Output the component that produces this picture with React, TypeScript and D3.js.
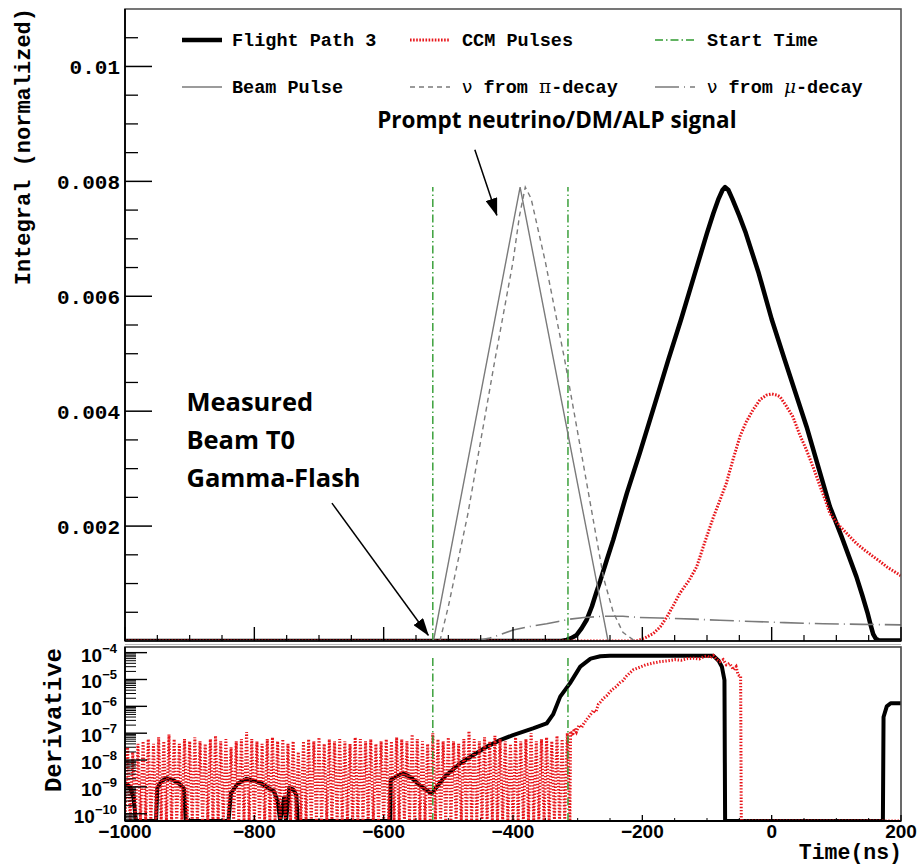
import React from 'react';
import * as d3 from 'd3';

// ---- axis labels / ticks ----
const timeMajorTicks = [-1000, -800, -600, -400, -200, 0, 200];
const timeTickLabels = ['\u22121000', '\u2212800', '\u2212600', '\u2212400', '\u2212200', '0', '200'];
const integralTicks = [0.002, 0.004, 0.006, 0.008, 0.01];
const integralTickLabels = ['0.002', '0.004', '0.006', '0.008', '0.01'];
const derivTicks = [1e-4, 1e-5, 1e-6, 1e-7, 1e-8, 1e-9, 1e-10];
const derivExponents = ['\u22124', '\u22125', '\u22126', '\u22127', '\u22128', '\u22129', '\u221210'];

// start-time window (ns)
const startTimes = [-524, -315];

// ---- top panel series: [time (ns), integral] ----
const flightPath3: [number, number][] = [
  [-1000, 0], [-325, 0], [-317, 0.00002], [-310, 0.00005], [-302, 0.0001], [-294, 0.00022],
  [-286, 0.00037], [-278, 0.0006], [-271, 0.00085], [-265, 0.00105], [-255, 0.00141],
  [-245, 0.00176], [-224, 0.00257], [-204, 0.00327], [-180, 0.00415], [-160, 0.00489],
  [-140, 0.0056], [-120, 0.00635], [-100, 0.0071], [-90, 0.00745], [-82, 0.0077],
  [-76, 0.00785], [-72, 0.0079], [-67, 0.00785], [-61, 0.0077], [-50, 0.0074], [-40, 0.0071],
  [-20, 0.0064], [0, 0.0056], [20, 0.0049], [54, 0.00373], [90, 0.00234], [108, 0.00182],
  [131, 0.00112], [140, 0.0008], [148, 0.0005], [153, 0.00028], [157, 0.00012],
  [161, 0.00004], [166, 0.00001], [200, 0.00001],
];

const ccmPulses: [number, number][] = [
  [-1000, 0], [-210, 0], [-204, 0.00002], [-195, 0.00006], [-183, 0.00013], [-172, 0.00025],
  [-162, 0.00042], [-152, 0.00062], [-142, 0.00083], [-128, 0.00105], [-116, 0.00129],
  [-104, 0.0017], [-90, 0.00216], [-80, 0.00245], [-70, 0.00275], [-60, 0.00315],
  [-49, 0.00356], [-40, 0.0038], [-29, 0.00402], [-18, 0.0042], [-8, 0.00428], [0, 0.0043],
  [8, 0.00428], [13, 0.00425], [22, 0.0041], [33, 0.0039], [43, 0.0036], [54, 0.00332],
  [65, 0.003], [75, 0.00269], [83, 0.00245], [90, 0.00222], [98, 0.0021], [106, 0.00199],
  [118, 0.00185], [131, 0.0017], [144, 0.00158], [157, 0.00147], [168, 0.00138],
  [178, 0.00129], [188, 0.00122], [198, 0.00115], [200, 0.00113],
];

const beamPulse: [number, number][] = [
  [-1000, 0], [-523, 0], [-389, 0.0079], [-253, 0], [200, 0],
];

const nuPiDecay: [number, number][] = [
  [-1000, 0], [-513, 0], [-500, 0.0006], [-470, 0.0022], [-428, 0.00489], [-400, 0.0066],
  [-390, 0.0074], [-381, 0.0079], [-372, 0.0077], [-350, 0.0066], [-320, 0.00489],
  [-290, 0.003], [-260, 0.0011], [-245, 0.0005], [-230, 0.00015], [-214, 0.00002],
  [-200, 0], [200, 0],
];

const nuMuDecay: [number, number][] = [
  [-470, 0], [-455, 0.00001], [-436, 0.00005], [-420, 0.00011], [-400, 0.00019],
  [-375, 0.00025], [-348, 0.0003], [-330, 0.00034], [-312, 0.00038], [-290, 0.00041],
  [-260, 0.00043], [-230, 0.00043], [-204, 0.00041], [-173, 0.0004], [-120, 0.00038],
  [-80, 0.00036], [-30, 0.00034], [20, 0.00032], [80, 0.0003], [140, 0.00029], [200, 0.00028],
];

// ---- bottom panel series ----
const fp3Derivative: [number, number][] = [
  [-1000, 1.4e-9], [-992, 1e-9], [-987, 4e-10], [-983, 0], [-952, 0], [-950, 9e-10],
  [-944, 1.6e-9], [-936, 2.1e-9], [-926, 1.8e-9], [-916, 1.3e-9], [-909, 9e-10], [-906, 0],
  [-840, 0], [-836, 6e-10], [-826, 1.3e-9], [-812, 2e-9], [-798, 1.6e-9], [-788, 1.3e-9],
  [-778, 9e-10], [-770, 7e-10], [-764, 3e-10], [-760, 0], [-754, 4e-10], [-751, 0],
  [-746, 9e-10], [-740, 8e-10], [-735, 5e-10], [-733, 0], [-590, 0], [-589, 1.8e-9],
  [-580, 2.5e-9], [-570, 3.2e-9], [-558, 2.3e-9], [-545, 1.2e-9], [-526, 5.6e-10],
  [-505, 2.5e-9], [-482, 7.4e-9], [-460, 1.6e-8], [-441, 3.1e-8], [-420, 5.5e-8],
  [-400, 8.5e-8], [-369, 1.5e-7], [-348, 2.3e-7], [-338, 5e-7], [-327, 2.3e-6],
  [-312, 7.2e-6], [-296, 3e-5], [-280, 6e-5], [-265, 7.3e-5], [-250, 7.6e-5], [-90, 7.6e-5],
  [-82, 5e-5], [-77, 3e-5], [-73, 9.5e-6], [-72, 0], [172, 0], [173, 4e-7], [178, 1e-6],
  [184, 1.3e-6], [200, 1.3e-6],
];

// CCM derivative before the start window: 4 ns bins, every other bin is negative
// (drops to the axis floor); these are the positive bin heights from -996 ns on.
const ccmNoiseStart = -1000;
const ccmNoiseBin = 4;
const ccmNoisePeaks = [
  3e-8, 2e-8, 4e-8, 5e-8, 6e-8, 4e-8, 7e-8, 5e-8, 9e-8, 6e-8,
  4e-8, 6e-8, 5e-8, 7e-8, 5e-8, 4e-8, 6e-8, 8e-8, 5e-8, 6e-8,
  3e-8, 5e-8, 6e-8, 1.1e-7, 6e-8, 5e-8, 4e-8, 6e-8, 7e-8, 5e-8,
  6e-8, 4e-8, 5e-8, 2e-8, 5e-8, 6e-8, 5e-8, 7e-8, 4e-8, 6e-8,
  5e-8, 6e-8, 5e-8, 4e-8, 7e-8, 6e-8, 5e-8, 6e-8, 4e-8, 5e-8,
  6e-8, 5e-8, 7e-8, 6e-8, 5e-8, 9e-8, 6e-8, 5e-8, 4e-8, 1e-7,
  6e-8, 5e-8, 7e-8, 5e-8, 4e-8, 6e-8, 1.2e-7, 6e-8, 5e-8, 7e-8,
  5e-8, 8e-8, 6e-8, 5e-8, 4e-8, 7e-8, 5e-8, 6e-8, 1e-7, 5e-8,
  6e-8, 7e-8, 5e-8, 8e-8, 6e-8, 1e-7,
];
const ccmDerivRise: [number, number][] = [
  [-311, 1.2e-7], [-308, 8e-8], [-305, 1.5e-7], [-302, 1.1e-7], [-298, 2e-7], [-294, 1.6e-7],
  [-290, 2.4e-7], [-285, 3.5e-7], [-280, 5e-7], [-276, 7e-7], [-272, 6e-7], [-268, 1.2e-6],
  [-264, 1.5e-6], [-260, 2e-6], [-255, 2.5e-6], [-250, 3.5e-6], [-245, 4.5e-6],
  [-240, 5.5e-6], [-235, 7.5e-6], [-230, 9e-6], [-225, 1.3e-5], [-220, 1.7e-5],
  [-214, 2.3e-5], [-205, 2.8e-5], [-195, 3.5e-5], [-185, 4e-5], [-173, 4.6e-5],
  [-160, 5e-5], [-150, 5.5e-5], [-140, 5.2e-5], [-130, 6e-5], [-121, 6.2e-5], [-112, 5.8e-5],
  [-105, 7e-5], [-100, 7.5e-5], [-95, 6.5e-5], [-90, 7.8e-5], [-85, 5.5e-5], [-80, 4.6e-5],
  [-75, 5.5e-5], [-70, 3.5e-5], [-65, 4e-5], [-59, 2.3e-5], [-55, 3e-5], [-52, 1.5e-5],
  [-49, 1.3e-5], [-48, 1.3e-5], [-47, 0], [200, 0],
];

// annotations, in data coordinates
const promptLabel = { t: -610, v: 0.00893, text: 'Prompt neutrino/DM/ALP signal' };
const promptArrow = { from: [-459, 0.00855], to: [-425, 0.00741] };
const flashLabel = { t: -905, v: 0.004, lines: ['Measured', 'Beam T0', 'Gamma-Flash'] };
const flashArrow = { from: [-680, 0.0024], to: [-531, 0.0001] };

// ---- layout ----
const W = 923;
const H = 864;
const L = 125;
const R = 901;
const topP = { top: 9, bottom: 641 };
const botP = { top: 647, bottom: 821 };

const mono = "'Liberation Mono', 'Courier New', monospace";
const sans = "'Liberation Sans', Arial, sans-serif";
const annotFont = "'Open Sans', sans-serif";

const RED = '#e8161b';
const GREEN = '#2f9a2f';
const GREY = '#7a7a7a';

const styles = {
  fp3: { stroke: '#000', strokeWidth: 4.5, dash: undefined },
  ccm: { stroke: RED, strokeWidth: 3, dash: '1.6,1.5' },
  start: { stroke: GREEN, strokeWidth: 1.4, dash: '8,3,1.5,3' },
  beam: { stroke: GREY, strokeWidth: 1.4, dash: undefined },
  pi: { stroke: GREY, strokeWidth: 1.4, dash: '5,4' },
  mu: { stroke: GREY, strokeWidth: 1.6, dash: '24,5,1,5' },
};

const legendEntries = [
  { key: 'fp3', col: 0, row: 0, label: 'Flight Path 3' },
  { key: 'ccm', col: 1, row: 0, label: 'CCM Pulses' },
  { key: 'start', col: 2, row: 0, label: 'Start Time' },
  { key: 'beam', col: 0, row: 1, label: 'Beam Pulse' },
  { key: 'pi', col: 1, row: 1, label: 'pi' },
  { key: 'mu', col: 2, row: 1, label: 'mu' },
];
const legendColX = [182, 410, 655];
const legendRowY = [40, 87];

export default function App() {
  const x = d3.scaleLinear().domain([-1000, 200]).range([L, R]);
  const yTop = d3.scaleLinear().domain([0, 0.011]).range([topP.bottom, topP.top]);
  const yBot = d3
    .scaleLog()
    .domain([Math.pow(10, -10.27), Math.pow(10, -3.79)])
    .range([botP.bottom, botP.top])
    .clamp(true);

  const lineTop = d3
    .line<[number, number]>()
    .x((d) => x(d[0]))
    .y((d) => yTop(d[1]));
  const lineBot = d3
    .line<[number, number]>()
    .x((d) => x(d[0]))
    .y((d) => yBot(Math.max(d[1], 1e-13)));

  const ccmDeriv: [number, number][] = [];
  ccmNoisePeaks.forEach((v, i) => {
    ccmDeriv.push([ccmNoiseStart + 2 * i * ccmNoiseBin, 0]);
    ccmDeriv.push([ccmNoiseStart + (2 * i + 1) * ccmNoiseBin, v]);
  });
  ccmDeriv.push([ccmNoiseStart + 2 * ccmNoisePeaks.length * ccmNoiseBin, 0]);
  ccmDerivRise.forEach((p) => ccmDeriv.push(p));

  const xMinor = d3.range(-1000, 201, 50).filter((t) => !timeMajorTicks.includes(t));
  const yMinor = d3.range(0.0005, 0.011, 0.0005).filter(
    (v) => !integralTicks.some((t) => Math.abs(t - v) < 1e-9)
  );
  const [dLo, dHi] = yBot.domain();
  const logMinor: number[] = [];
  for (let e = -11; e <= -4; e++) {
    for (let m = 2; m <= 9; m++) {
      const v = m * Math.pow(10, e);
      if (v > dLo && v < dHi) logMinor.push(v);
    }
  }

  const pathStyle = (k: keyof typeof styles) => ({
    fill: 'none',
    stroke: styles[k].stroke,
    strokeWidth: styles[k].strokeWidth,
    strokeDasharray: styles[k].dash,
  });

  const arrow = (a: { from: number[]; to: number[] }, key: string) => (
    <line
      key={key}
      x1={x(a.from[0])}
      y1={yTop(a.from[1])}
      x2={x(a.to[0])}
      y2={yTop(a.to[1])}
      stroke="#000"
      strokeWidth={1.5}
      markerEnd="url(#arrowHead)"
    />
  );

  return (
    <svg
      width={W}
      height={H}
      style={{ position: 'absolute', left: 0, top: 0, background: '#fff', display: 'block' }}
    >
      <defs>
        <clipPath id="clipTop">
          <rect x={L} y={topP.top} width={R - L} height={topP.bottom - topP.top} />
        </clipPath>
        <clipPath id="clipBot">
          <rect x={L} y={botP.top} width={R - L} height={botP.bottom - botP.top} />
        </clipPath>
        <marker
          id="arrowHead"
          viewBox="0 0 18 12"
          refX={17}
          refY={6}
          markerWidth={18}
          markerHeight={12}
          markerUnits="userSpaceOnUse"
          orient="auto"
        >
          <path d="M0,0 L18,6 L0,12 z" fill="#000" />
        </marker>
      </defs>
      <rect width={W} height={H} fill="#fff" />

      {/* ===== top panel ===== */}
      <g clipPath="url(#clipTop)">
        <path d={lineTop(flightPath3) || ''} {...pathStyle('fp3')} strokeLinejoin="round" />
        <path d={lineTop(ccmPulses) || ''} {...pathStyle('ccm')} />
        {startTimes.map((t) => (
          <line key={t} x1={x(t)} x2={x(t)} y1={yTop(0)} y2={yTop(0.0079)} {...pathStyle('start')} />
        ))}
        <path d={lineTop(beamPulse) || ''} {...pathStyle('beam')} />
        <path d={lineTop(nuPiDecay) || ''} {...pathStyle('pi')} />
        <path d={lineTop(nuMuDecay) || ''} {...pathStyle('mu')} />
      </g>
      <rect
        x={L}
        y={topP.top}
        width={R - L}
        height={topP.bottom - topP.top}
        fill="none"
        stroke="#555"
        strokeWidth={1.6}
      />
      <line x1={L} x2={L} y1={topP.top} y2={topP.bottom} stroke="#000" strokeWidth={1.8} />
      <line x1={L} x2={R} y1={topP.bottom} y2={topP.bottom} stroke="#000" strokeWidth={1.6} />
      {integralTicks.map((v, i) => (
        <g key={v}>
          <line x1={L} x2={L + 27} y1={yTop(v)} y2={yTop(v)} stroke="#000" strokeWidth={1.5} />
          <text
            x={120}
            y={yTop(v) + 7.5}
            textAnchor="end"
            fontFamily={mono}
            fontWeight="bold"
            fontSize={21}
          >
            {integralTickLabels[i]}
          </text>
        </g>
      ))}
      {yMinor.map((v) => (
        <line key={v} x1={L} x2={L + 13} y1={yTop(v)} y2={yTop(v)} stroke="#000" strokeWidth={1.3} />
      ))}
      {timeMajorTicks.map((t) => (
        <line key={t} x1={x(t)} x2={x(t)} y1={topP.bottom} y2={topP.bottom - 14} stroke="#000" strokeWidth={1.4} />
      ))}
      {xMinor.map((t) => (
        <line key={t} x1={x(t)} x2={x(t)} y1={topP.bottom} y2={topP.bottom - 6} stroke="#000" strokeWidth={1.2} />
      ))}
      <text
        transform={`translate(30, 8) rotate(-90)`}
        textAnchor="end"
        fontFamily={mono}
        fontWeight="bold"
        fontSize={22}
      >
        Integral (normalized)
      </text>

      {/* legend */}
      {legendEntries.map((e) => {
        const lx = legendColX[e.col];
        const ly = legendRowY[e.row];
        const tx = e.col === 0 ? lx + 50 : lx + 52;
        return (
          <g key={e.key}>
            <line x1={lx} x2={lx + 40} y1={ly} y2={ly} {...pathStyle(e.key as keyof typeof styles)} />
            <text x={tx} y={ly + 6} fontFamily={mono} fontWeight="bold" fontSize={18.5}>
              {e.label === 'pi' ? (
                <>
                  <tspan fontFamily="'DejaVu Sans', sans-serif" fontWeight="normal">{'\u03bd'}</tspan>
                  {' from '}
                  <tspan fontFamily="'DejaVu Serif', serif" fontWeight="normal">{'\u03c0'}</tspan>
                  {'-decay'}
                </>
              ) : e.label === 'mu' ? (
                <>
                  <tspan fontFamily="'DejaVu Sans', sans-serif" fontWeight="normal">{'\u03bd'}</tspan>
                  {' from '}
                  <tspan fontFamily="'DejaVu Serif', serif" fontStyle="italic" fontWeight="normal">{'\u03bc'}</tspan>
                  {'-decay'}
                </>
              ) : (
                e.label
              )}
            </text>
          </g>
        );
      })}

      {/* annotations */}
      <text
        x={x(promptLabel.t)}
        y={yTop(promptLabel.v)}
        fontFamily={annotFont}
        fontWeight={700}
        fontSize={22.5}
      >
        {promptLabel.text}
      </text>
      {arrow(promptArrow, 'pa')}
      <text fontFamily={annotFont} fontWeight={700} fontSize={25.5}>
        {flashLabel.lines.map((s, i) => (
          <tspan key={s} x={x(flashLabel.t)} y={yTop(flashLabel.v) + i * 38}>
            {s}
          </tspan>
        ))}
      </text>
      {arrow(flashArrow, 'fa')}

      {/* ===== bottom panel ===== */}
      <g clipPath="url(#clipBot)">
        <path d={lineBot(fp3Derivative) || ''} fill="none" stroke="#000" strokeWidth={4} strokeLinejoin="round" />
        <path d={lineBot(ccmDeriv) || ''} fill="none" stroke={RED} strokeWidth={3} strokeDasharray="1.4,1.7" />
        {startTimes.map((t) => (
          <line key={t} x1={x(t)} x2={x(t)} y1={yBot.range()[0]} y2={yBot(7.6e-5)} {...pathStyle('start')} />
        ))}
      </g>
      <line x1={L} x2={R} y1={botP.top - 2.5} y2={botP.top - 2.5} stroke="#bbb" strokeWidth={1} />
      <rect
        x={L}
        y={botP.top}
        width={R - L}
        height={botP.bottom - botP.top}
        fill="none"
        stroke="#444"
        strokeWidth={1.6}
      />
      <line x1={L} x2={L} y1={botP.top} y2={botP.bottom} stroke="#000" strokeWidth={1.8} />
      <line x1={L} x2={R} y1={botP.bottom} y2={botP.bottom} stroke="#000" strokeWidth={1.8} />
      {derivTicks.map((v, i) => (
        <g key={v}>
          <line x1={L} x2={L + 22} y1={yBot(v)} y2={yBot(v)} stroke="#000" strokeWidth={1.4} />
          <text x={117} y={yBot(v) + 9} textAnchor="end" fontFamily={sans} fontWeight="bold" fontSize={19}>
            10
            <tspan dy={-9} fontSize={13}>
              {derivExponents[i]}
            </tspan>
          </text>
        </g>
      ))}
      {logMinor.map((v) => (
        <line key={v} x1={L} x2={L + 11} y1={yBot(v)} y2={yBot(v)} stroke="#000" strokeWidth={1} />
      ))}
      {timeMajorTicks.map((t, i) => (
        <g key={t}>
          <line x1={x(t)} x2={x(t)} y1={botP.bottom} y2={botP.bottom - 6} stroke="#000" strokeWidth={1.3} />
          <text x={x(t)} y={838} textAnchor="middle" fontFamily={sans} fontWeight="bold" fontSize={19}>
            {timeTickLabels[i]}
          </text>
        </g>
      ))}
      {xMinor.map((t) => (
        <line key={t} x1={x(t)} x2={x(t)} y1={botP.bottom} y2={botP.bottom - 3} stroke="#000" strokeWidth={1} />
      ))}
      <text
        transform={`translate(61, 648) rotate(-90)`}
        textAnchor="end"
        fontFamily={mono}
        fontWeight="bold"
        fontSize={24}
      >
        Derivative
      </text>
      <text x={902} y={859} textAnchor="end" fontFamily={mono} fontWeight="bold" fontSize={21.5}>
        Time(ns)
      </text>
    </svg>
  );
}
